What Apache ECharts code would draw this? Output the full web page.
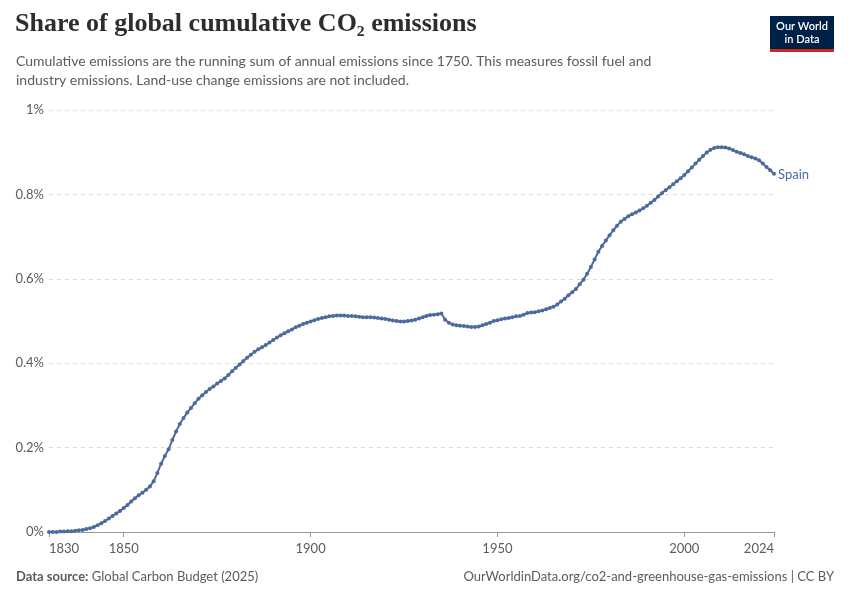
<!DOCTYPE html>
<html>
<head>
<meta charset="utf-8">
<script src="https://cdn.jsdelivr.net/npm/echarts@6/dist/echarts.min.js"></script>
<style>
  html, body { margin: 0; padding: 0; background: #fff; }
  #chart { width: 850px; height: 600px; }
</style>
</head>
<body>
<div id="chart"></div>
<script>
const FIRST_YEAR = 1830
const xTicks = [1830, 1850, 1900, 1950, 2000, 2024]
const yTicks = [0, 0.2, 0.4, 0.6, 0.8, 1]

// share of global cumulative CO2 (%), one value per year, 1830..2024
const spainShare = [
  0.000, 0.000, 0.000, 0.001, 0.001, 0.002, 0.002, 0.003, 0.004, 0.005,
  0.007, 0.009, 0.012, 0.016, 0.021, 0.026, 0.032, 0.038, 0.044, 0.050,
  0.057, 0.064, 0.072, 0.080, 0.087, 0.093, 0.100, 0.108, 0.120, 0.140,
  0.162, 0.180, 0.196, 0.218, 0.238, 0.256, 0.270, 0.283, 0.294, 0.305,
  0.316, 0.324, 0.332, 0.339, 0.345, 0.352, 0.358, 0.364, 0.372, 0.381,
  0.389, 0.397, 0.405, 0.413, 0.420, 0.427, 0.433, 0.438, 0.443, 0.449,
  0.455, 0.461, 0.466, 0.471, 0.476, 0.480, 0.485, 0.489, 0.493, 0.496,
  0.499, 0.502, 0.505, 0.507, 0.509, 0.511, 0.512, 0.513, 0.513, 0.513,
  0.512, 0.512, 0.511, 0.510, 0.509, 0.509, 0.509, 0.508, 0.507, 0.506,
  0.505, 0.503, 0.501, 0.500, 0.499, 0.499, 0.500, 0.501, 0.503, 0.506,
  0.509, 0.512, 0.514, 0.515, 0.516, 0.518, 0.503, 0.496, 0.492, 0.490,
  0.489, 0.488, 0.487, 0.486, 0.486, 0.487, 0.490, 0.493, 0.496, 0.500,
  0.502, 0.504, 0.506, 0.507, 0.509, 0.511, 0.512, 0.515, 0.519, 0.520,
  0.521, 0.523, 0.525, 0.528, 0.531, 0.534, 0.539, 0.546, 0.553, 0.561,
  0.568, 0.576, 0.587, 0.598, 0.612, 0.628, 0.646, 0.664, 0.678, 0.691,
  0.703, 0.715, 0.726, 0.735, 0.742, 0.748, 0.753, 0.757, 0.762, 0.767,
  0.773, 0.780, 0.787, 0.795, 0.803, 0.810, 0.817, 0.824, 0.831, 0.838,
  0.846, 0.855, 0.864, 0.873, 0.882, 0.891, 0.899, 0.906, 0.910, 0.912,
  0.912, 0.911, 0.909, 0.905, 0.901, 0.898, 0.895, 0.891, 0.888, 0.885,
  0.881, 0.873, 0.865, 0.857, 0.849
]

const LINE_COLOR = '#4c6a9c'
const TEXT_GRAY = '#5b5b5b'

const points = spainShare.map((v, i) => [FIRST_YEAR + i, v])

const chart = echarts.init(document.getElementById('chart'))
chart.setOption({
  animation: false,
  textStyle: { fontFamily: 'Lato, sans-serif' },
  grid: { left: 49, right: 76, top: 110, bottom: 68 },
  xAxis: {
    type: 'value',
    min: 1830,
    max: 2024,
    axisLine: { show: true, lineStyle: { color: '#999', width: 1 } },
    axisTick: { show: true, customValues: xTicks, length: 5, lineStyle: { color: '#999' } },
    axisLabel: {
      customValues: xTicks,
      color: TEXT_GRAY,
      fontSize: 13,
      margin: 10,
      alignMinLabel: 'left',
      alignMaxLabel: 'right',
      formatter: v => String(v)
    },
    splitLine: { show: false }
  },
  yAxis: {
    type: 'value',
    min: 0,
    max: 1,
    interval: 0.2,
    axisLine: { show: false },
    axisTick: { show: false },
    axisLabel: {
      customValues: yTicks,
      color: TEXT_GRAY,
      fontSize: 13,
      margin: 5,
      formatter: v => (v === 0 || v === 1 ? v.toFixed(0) : v.toFixed(1)) + '%'
    },
    splitLine: { lineStyle: { color: '#dcdcdc', type: [4, 4] } }
  },
  series: [{
    type: 'line',
    data: points,
    showSymbol: true,
    symbol: 'circle',
    symbolSize: 4,
    itemStyle: { color: LINE_COLOR },
    lineStyle: { color: LINE_COLOR, width: 2 },
    endLabel: {
      show: true,
      formatter: 'Spain',
      color: LINE_COLOR,
      fontSize: 13,
      distance: 4,
      offset: [0, 1]
    }
  }],
  graphic: [
    {
      type: 'text', left: 15, top: 11,
      style: {
        text: 'Share of global cumulative CO₂ emissions',
        font: 'bold 26px "Liberation Serif", "DejaVu Serif", serif',
        fill: '#2d2d2d'
      }
    },
    {
      type: 'text', left: 16, top: 52,
      style: {
        text: 'Cumulative emissions are the running sum of annual emissions since 1750. This measures fossil fuel and\nindustry emissions. Land-use change emissions are not included.',
        font: '14px Lato, sans-serif',
        fill: TEXT_GRAY,
        lineHeight: 19
      }
    },
    {
      type: 'group', right: 16, top: 16,
      children: [
        { type: 'rect', shape: { x: 0, y: 0, width: 64, height: 33 }, style: { fill: '#002147' } },
        { type: 'rect', shape: { x: 0, y: 33, width: 64, height: 3 }, style: { fill: '#ce261e' } },
        {
          type: 'text', x: 32, y: 17,
          style: {
            text: 'Our World\nin Data',
            font: '600 11px Lato, sans-serif',
            fill: '#fff',
            align: 'center',
            verticalAlign: 'middle',
            lineHeight: 13
          }
        }
      ]
    },
    {
      type: 'text', left: 16, top: 570,
      style: {
        text: '{b|Data source:} Global Carbon Budget (2025)',
        font: '13px Lato, sans-serif',
        fill: TEXT_GRAY,
        rich: { b: { fontWeight: 'bold', fontSize: 13, fill: TEXT_GRAY, fontFamily: 'Lato, sans-serif' } }
      }
    },
    {
      type: 'text', right: 16, top: 570,
      style: {
        text: 'OurWorldinData.org/co2-and-greenhouse-gas-emissions | CC BY',
        font: '13px Lato, sans-serif',
        fill: TEXT_GRAY
      }
    }
  ]
})
</script>
</body>
</html>
